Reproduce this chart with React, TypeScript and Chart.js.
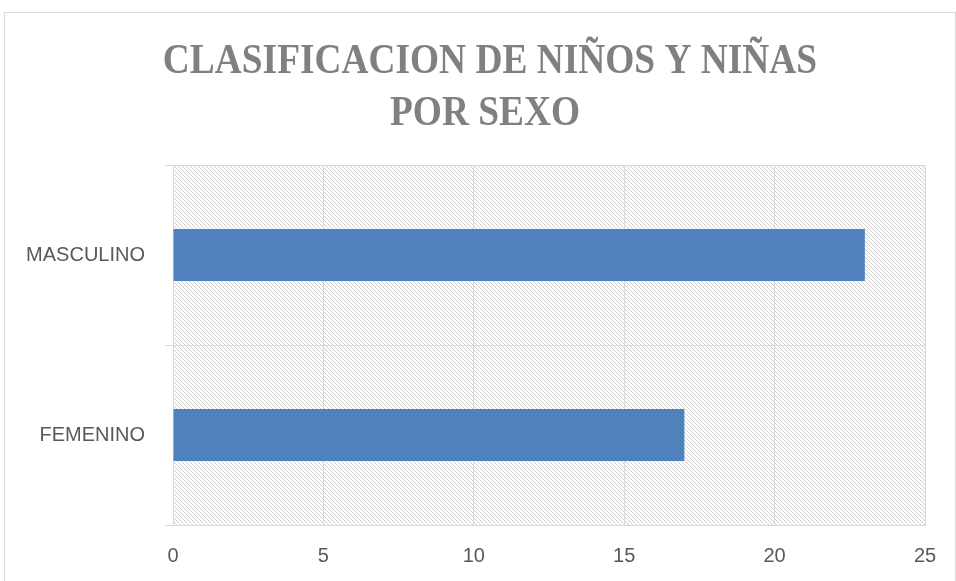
import React, { useEffect, useRef } from "react";
import { Chart, registerables } from "chart.js";
Chart.register(...registerables);

const categories = ["MASCULINO", "FEMENINO"];
const values = [23, 17];
const xMin = 0;
const xMax = 25;
const xStep = 5;
const titleLines = ["CLASIFICACION DE NIÑOS Y NIÑAS", "POR SEXO"];

const W = 956;
const H = 581;

export default function App() {
  const ref = useRef<HTMLCanvasElement>(null);
  useEffect(() => {
    document.body.style.margin = "0";
    const canvas = ref.current!;
    const pc = document.createElement("canvas");
    pc.width = 8;
    pc.height = 8;
    const pctx = pc.getContext("2d")!;
    pctx.fillStyle = "#ffffff";
    pctx.fillRect(0, 0, 8, 8);
    pctx.fillStyle = "#cfcfcf";
    for (let i = 0; i < 8; i++) {
      pctx.fillRect(i, i, 1, 1);
      pctx.fillRect(i, (i + 4) % 8, 1, 1);
    }

    const bgPlugin = {
      id: "bg",
      beforeDraw(chart: any) {
        const ctx = chart.ctx;
        const a = chart.chartArea;
        ctx.save();
        ctx.fillStyle = "#ffffff";
        ctx.fillRect(0, 0, W, H);
        ctx.strokeStyle = "#d9d9d9";
        ctx.lineWidth = 1;
        ctx.strokeRect(4.5, 12.5, W - 5, H + 10);
        const pat = ctx.createPattern(pc, "repeat");
        ctx.fillStyle = pat;
        ctx.fillRect(a.left, a.top, a.right - a.left, a.bottom - a.top);
        ctx.restore();
      },
      afterDraw(chart: any) {
        const ctx = chart.ctx;
        ctx.save();
        ctx.fillStyle = "#808080";
        ctx.font = "bold 42px 'Liberation Serif'";
        ctx.textAlign = "center";
        ctx.textBaseline = "alphabetic";
        const sx = 0.89;
        ctx.scale(sx, 1);
        ctx.fillText(titleLines[0], 490 / sx, 73);
        ctx.fillText(titleLines[1], 485 / sx, 125);
        ctx.restore();
      },
    };

    const chart = new Chart(canvas, {
      type: "bar",
      data: {
        labels: categories,
        datasets: [
          {
            data: values,
            backgroundColor: "#4F81BD",
            barPercentage: 0.29,
            categoryPercentage: 1,
          },
        ],
      },
      options: {
        indexAxis: "y",
        animation: false,
        responsive: false,
        devicePixelRatio: 1,
        layout: { padding: { top: 165, right: 31, bottom: 0, left: 0 } },
        plugins: { legend: { display: false }, tooltip: { enabled: false }, title: { display: false } },
        scales: {
          x: {
            type: "linear",
            min: xMin,
            max: xMax,
            ticks: { stepSize: xStep, color: "#595959", font: { family: "'Liberation Sans'", size: 20 }, padding: 19 },
            grid: { color: "#d9d9d9", drawTicks: false },
            border: { color: "#d9d9d9" },
            afterFit(scale: any) {
              scale.height = 56;
            },
          },
          y: {
            type: "category",
            ticks: { color: "#595959", font: { family: "'Liberation Sans'", size: 20 }, padding: 20 },
            grid: { color: "#d9d9d9", offset: true, tickLength: 8 },
            border: { color: "#d9d9d9" },
            afterFit(scale: any) {
              scale.width = 173;
            },
          },
        },
      },
      plugins: [bgPlugin],
    });
    return () => chart.destroy();
  }, []);
  return (
    <div style={{ position: "relative", width: W, height: H }}>
      <canvas ref={ref} width={W} height={H} style={{ display: "block", width: W, height: H }} />
    </div>
  );
}
